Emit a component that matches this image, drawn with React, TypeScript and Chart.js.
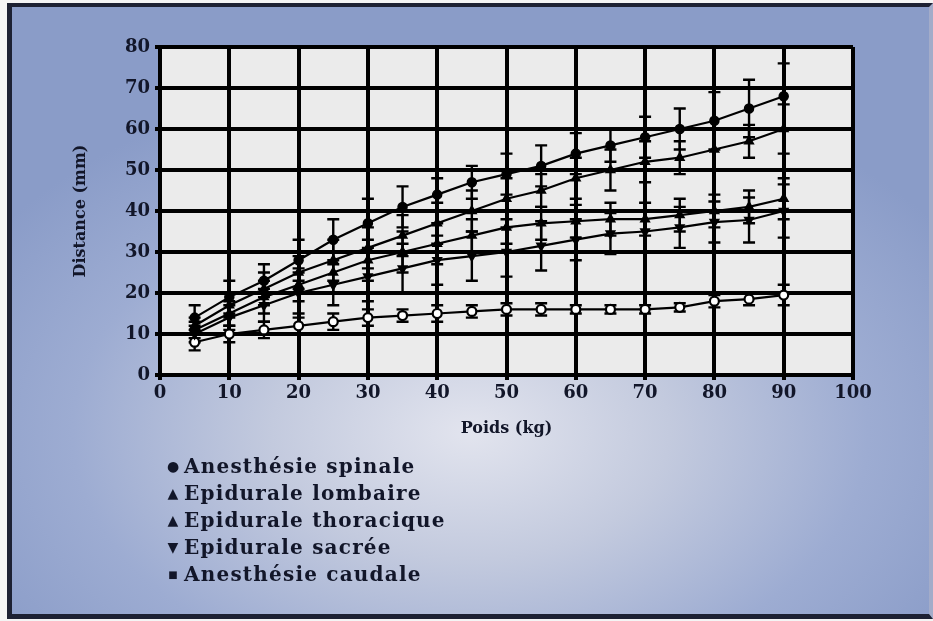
import React, { useEffect, useRef } from "react";
import { Chart, registerables } from "chart.js";

Chart.register(...registerables);

// ---- Data ----
const weights = [5, 10, 15, 20, 25, 30, 35, 40, 45, 50, 55, 60, 65, 70, 75, 80, 85, 90];

const seriesLabels = [
  "Anesthésie spinale",
  "Epidurale lombaire",
  "Epidurale thoracique",
  "Epidurale sacrée",
  "Anesthésie caudale",
];

const spinale = [14, 19, 23, 28, 33, 37, 41, 44, 47, 49, 51, 54, 56, 58, 60, 62, 65, 68];
const spinaleErr = [3, 4, 4, 5, 5, 6, 5, 4, 4, 5, 5, 5, 4, 5, 5, 7, 7, 8];

const lombaire = [12, 17, 21, 25, 28, 31, 34, 37, 40, 43, 45, 48, 50, 52, 53, 55, 57, 60];
const lombaireErr = [2, 3, 4, 4, 5, 5, 5, 5, 5, 5, 4, 5, 5, 5, 4, 5, 4, 6];

const thoracique = [11, 15, 19, 22, 25, 28, 30, 32, 34, 36, 37, 37.5, 38, 38, 39, 40, 41, 43];
const thoraciqueErr = [2, 3, 4, 4, 5, 5, 5, 5, 4, 4, 4, 4, 4, 4, 4, 4, 4, 5];

const sacree = [10, 14, 17, 20, 22, 24, 26, 28, 29, 30, 31.5, 33, 34.5, 35, 36, 37.3, 37.8, 40];
const sacreeErr = [2, 3, 4, 5, 5, 6, 6, 6, 6, 6, 6, 5, 5, 5, 5, 5, 5.5, 6.5];

const caudale = [8, 10, 11, 12, 13, 14, 14.5, 15, 15.5, 16, 16, 16, 16, 16, 16.5, 18, 18.5, 19.5];
const caudaleErr = [2, 2, 2, 2, 2, 2, 1.5, 2, 1.5, 1.5, 1.5, 1, 1, 1, 1, 1.5, 1.5, 2.5];

const xTicksMax = 100;
const yTicksMax = 80;

const legendMarkers = ["●", "▲", "▲", "▼", "■"];

const FONT = "'DejaVu Serif', 'Liberation Serif', serif";
const TEXT = "#121629";

const bgPlugin = {
  id: "plotBg",
  beforeDraw(chart: any) {
    const { ctx, chartArea } = chart;
    if (!chartArea) return;
    ctx.save();
    ctx.fillStyle = "#ebebeb";
    ctx.fillRect(chartArea.left, chartArea.top, chartArea.right - chartArea.left, chartArea.bottom - chartArea.top);
    ctx.restore();
  },
};

const errorBarPlugin = {
  id: "errorBars",
  beforeDatasetsDraw(chart: any) {
    const { ctx, chartArea, scales } = chart;
    const xs = scales.x;
    const ys = scales.y;
    ctx.save();
    ctx.beginPath();
    ctx.rect(chartArea.left, chartArea.top, chartArea.right - chartArea.left, chartArea.bottom - chartArea.top);
    ctx.clip();
    ctx.strokeStyle = "#000";
    ctx.lineWidth = 2.4;
    chart.data.datasets.forEach((ds: any) => {
      ds.data.forEach((p: any, i: number) => {
        const e = ds.errors[i];
        const px = xs.getPixelForValue(p.x);
        const y1 = ys.getPixelForValue(p.y + e);
        const y2 = ys.getPixelForValue(p.y - e);
        ctx.beginPath();
        ctx.moveTo(px, y1);
        ctx.lineTo(px, y2);
        ctx.moveTo(px - 6, y1);
        ctx.lineTo(px + 6, y1);
        ctx.moveTo(px - 6, y2);
        ctx.lineTo(px + 6, y2);
        ctx.stroke();
      });
    });
    ctx.restore();
  },
};

function makeSet(label: string, values: number[], errors: number[], style: any) {
  return {
    label,
    data: weights.map((w, i) => ({ x: w, y: values[i] })),
    errors,
    showLine: true,
    borderColor: "#000",
    borderWidth: 2.2,
    pointRadius: 4.5,
    pointBorderColor: "#000",
    pointBorderWidth: 1.5,
    pointBackgroundColor: "#000",
    ...style,
  };
}

export default function App() {
  const ref = useRef<HTMLCanvasElement>(null);

  useEffect(() => {
    document.body.style.margin = "0";
    const canvas = ref.current;
    if (!canvas) return;
    const datasets = [
      makeSet(seriesLabels[0], spinale, spinaleErr, { pointStyle: "circle" }),
      makeSet(seriesLabels[1], lombaire, lombaireErr, { pointStyle: "triangle", pointRadius: 5 }),
      makeSet(seriesLabels[2], thoracique, thoraciqueErr, { pointStyle: "triangle", pointRadius: 5 }),
      makeSet(seriesLabels[3], sacree, sacreeErr, { pointStyle: "triangle", pointRotation: 180, pointRadius: 5 }),
      makeSet(seriesLabels[4], caudale, caudaleErr, {
        pointStyle: "circle",
        pointBackgroundColor: "#ffffff",
        pointBorderWidth: 2.2,
        pointRadius: 4.5,
      }),
    ];

    const tickFont = { family: FONT, size: 18, weight: "bold" as const };
    const titleFont = { family: FONT, size: 16, weight: "bold" as const };

    const chart = new Chart(canvas, {
      type: "scatter",
      data: { datasets: datasets as any },
      options: {
        responsive: false,
        animation: false,
        devicePixelRatio: 1,
        layout: { padding: { left: 0, top: 47, right: 80, bottom: 176 } },
        scales: {
          x: {
            type: "linear",
            min: 0,
            max: xTicksMax,
            ticks: { stepSize: 10, font: tickFont, color: TEXT, padding: 3 },
            grid: { color: "#000", lineWidth: 4, tickLength: 5 },
            border: { color: "#000", width: 4 },
            title: {
              display: true,
              text: "Poids (kg)",
              font: titleFont,
              color: TEXT,
              padding: { top: 0, bottom: 7 },
            },
            afterFit: (s: any) => {
              s.height = 70;
            },
          },
          y: {
            type: "linear",
            min: 0,
            max: yTicksMax,
            ticks: { stepSize: 10, font: tickFont, color: TEXT, padding: 5 },
            grid: { color: "#000", lineWidth: 4, tickLength: 5 },
            border: { color: "#000", width: 4 },
            title: {
              display: true,
              text: "Distance (mm)",
              font: titleFont,
              color: TEXT,
              padding: { top: 71, bottom: 0 },
            },
            afterFit: (s: any) => {
              s.width = 160;
            },
          },
        },
        plugins: {
          legend: { display: false },
          tooltip: { enabled: false },
        },
      } as any,
      plugins: [bgPlugin, errorBarPlugin],
    });
    return () => chart.destroy();
  }, []);

  return (
    <div style={{ position: "relative", width: 933, height: 621, background: "#f4f4f4", overflow: "hidden" }}>
      <div
        style={{
          position: "absolute",
          left: 7,
          top: 3,
          width: 926,
          height: 616,
          boxSizing: "border-box",
          borderLeft: "5px solid #1d2133",
          borderTop: "4px solid #1d2133",
          borderBottom: "5px solid #1d2133",
          borderRight: "4px solid #a3acc9",
          background:
            "radial-gradient(ellipse 62% 60% at 50% 70%, #e2e4ee 0%, #c3cade 35%, #9dacd2 70%, #8a9cc8 100%)",
        }}
      />
      <canvas ref={ref} width={933} height={621} style={{ position: "absolute", left: 0, top: 0 }} />
      <div style={{ position: "absolute", left: 162, top: 453, fontFamily: FONT, color: TEXT }}>
        {seriesLabels.map((lab, i) => (
          <div key={lab} style={{ height: 27, lineHeight: "27px", whiteSpace: "nowrap", display: "flex", alignItems: "center" }}>
            <span style={{ width: 22, fontSize: i === 4 ? 10 : 14, textAlign: "center", display: "inline-block" }}>
              {legendMarkers[i]}
            </span>
            <span style={{ fontSize: 20, fontWeight: "bold", letterSpacing: 1.2 }}>{lab}</span>
          </div>
        ))}
      </div>
    </div>
  );
}
